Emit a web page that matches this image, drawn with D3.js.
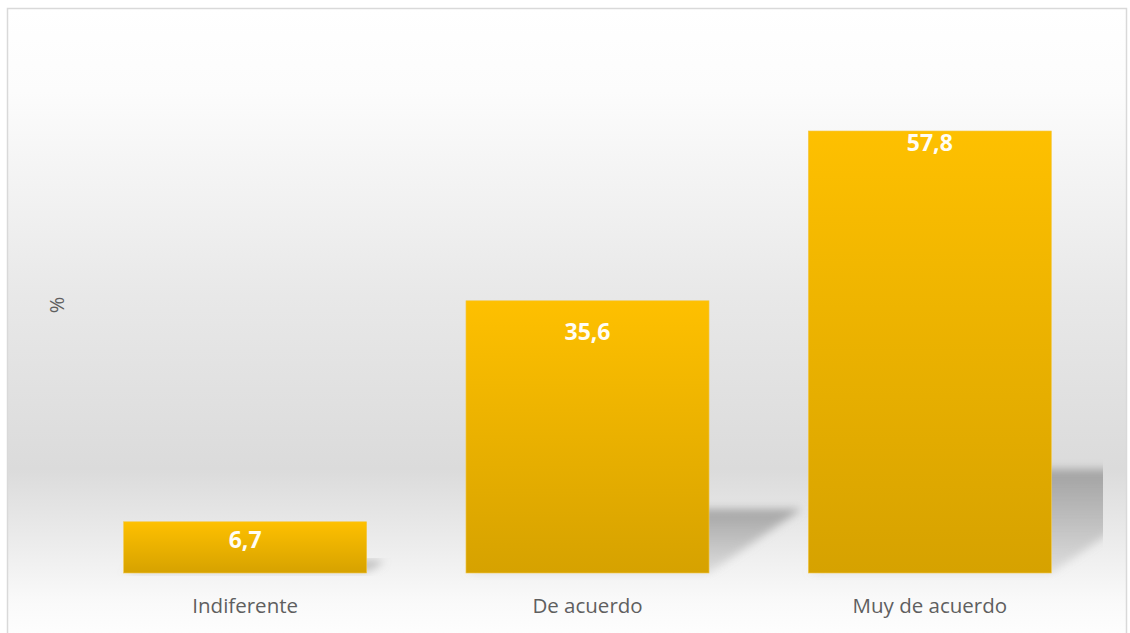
<!DOCTYPE html>
<html>
<head>
<meta charset="utf-8">
<script src="https://cdn.jsdelivr.net/npm/d3@7"></script>
<style>
  html, body { margin: 0; padding: 0; background: #fff; }
  svg { display: block; }
</style>
</head>
<body>
<svg id="chart" width="1130" height="633"></svg>
<script>
const categories = ["Indiferente", "De acuerdo", "Muy de acuerdo"];
const values = [6.7, 35.6, 57.8];
const valueLabels = ["6,7", "35,6", "57,8"];
const axisTitle = "%";

const W = 1130, H = 633;
const svg = d3.select("#chart");
const defs = svg.append("defs");

// background gradient
const bg = defs.append("linearGradient").attr("id", "bg").attr("x1", 0).attr("y1", 0).attr("x2", 0).attr("y2", 1);
[[0, "#ffffff"], [0.13, "#fcfcfc"], [0.45, "#e8e8e8"], [0.72, "#dbdbdb"], [0.93, "#fafafa"], [1, "#ffffff"]]
  .forEach(([o, c]) => bg.append("stop").attr("offset", o).attr("stop-color", c));

// bar gradient
const bar = defs.append("linearGradient").attr("id", "barg").attr("x1", 0).attr("y1", 0).attr("x2", 0).attr("y2", 1);
bar.append("stop").attr("offset", 0).attr("stop-color", "#fec000");
bar.append("stop").attr("offset", 1).attr("stop-color", "#d6a200");

// shadow fade gradient
const sg = defs.append("linearGradient").attr("id", "shg").attr("x1", 0).attr("y1", 0).attr("x2", 0).attr("y2", 1);
sg.append("stop").attr("offset", 0).attr("stop-color", "#8f8f8f").attr("stop-opacity", 0.75);
sg.append("stop").attr("offset", 1).attr("stop-color", "#a0a0a0").attr("stop-opacity", 0.25);

const blur = defs.append("filter").attr("id", "blur").attr("x", "-20%").attr("y", "-20%").attr("width", "140%").attr("height", "140%");
blur.append("feGaussianBlur").attr("stdDeviation", 4.5);

defs.append("clipPath").attr("id", "plotclip").append("rect")
  .attr("x", 60).attr("y", 20).attr("width", 1043).attr("height", 560);

// chart background + border
svg.append("rect").attr("x", 7.5).attr("y", 8.5).attr("width", 1119).attr("height", 640)
  .attr("fill", "url(#bg)").attr("stroke", "#d9d9d9").attr("stroke-width", 1.5);

const x = d3.scaleBand().domain(categories).range([74, 1101]).paddingInner(0.29).paddingOuter(0.145);
const y = d3.scaleLinear().domain([0, 70]).range([573, 37.7]);

const data = categories.map((c, i) => ({ c, v: values[i], label: valueLabels[i], i }));

// perspective shadows
const shadowG = svg.append("g").attr("clip-path", "url(#plotclip)");
shadowG.selectAll("path").data(data).enter().append("path")
  .attr("d", d => {
    const x0 = x(d.c), x1 = x(d.c) + x.bandwidth();
    const yb = y(0), h = y(0) - y(d.v);
    const dx = 0.34 * h, dy = 0.235 * h;
    return `M${x0},${yb}L${x1},${yb}L${x1 + dx},${yb - dy}L${x0 + dx},${yb - dy}Z`;
  })
  .attr("fill", "url(#shg)").attr("filter", "url(#blur)");

// bars
svg.append("g").selectAll("rect").data(data).enter().append("rect")
  .attr("x", d => x(d.c)).attr("y", d => y(d.v))
  .attr("width", x.bandwidth()).attr("height", d => y(0) - y(d.v))
  .attr("fill", "url(#barg)").attr("stroke", "#f3c84a").attr("stroke-width", 0.6);

// value labels (inside end)
const labelOffsets = [26, 39, 20];
svg.append("g").selectAll("text").data(data).enter().append("text")
  .attr("x", d => x(d.c) + x.bandwidth() / 2)
  .attr("y", d => y(d.v) + labelOffsets[d.i])
  .attr("text-anchor", "middle")
  .attr("font-family", "'Open Sans', 'Noto Sans', sans-serif")
  .attr("font-weight", "bold").attr("font-size", 23)
  .attr("fill", "#fffdf5")
  .text(d => d.label);

// category axis
const xAxis = d3.axisBottom(x).tickSize(0).tickPadding(0);
const gx = svg.append("g").attr("transform", `translate(0,${y(0)})`).call(xAxis);
gx.select(".domain").remove();
gx.selectAll("text")
  .attr("y", 40).attr("dy", 0)
  .attr("font-family", "'Open Sans', 'Noto Sans', sans-serif")
  .attr("font-size", 20.5).attr("fill", "#5f5f5f");

// axis title
svg.append("text")
  .attr("transform", `translate(64,305) rotate(-90)`)
  .attr("text-anchor", "middle")
  .attr("font-family", "'Open Sans', 'Noto Sans', sans-serif")
  .attr("font-size", 20).attr("fill", "#5f5f5f")
  .text(axisTitle);
</script>
</body>
</html>
